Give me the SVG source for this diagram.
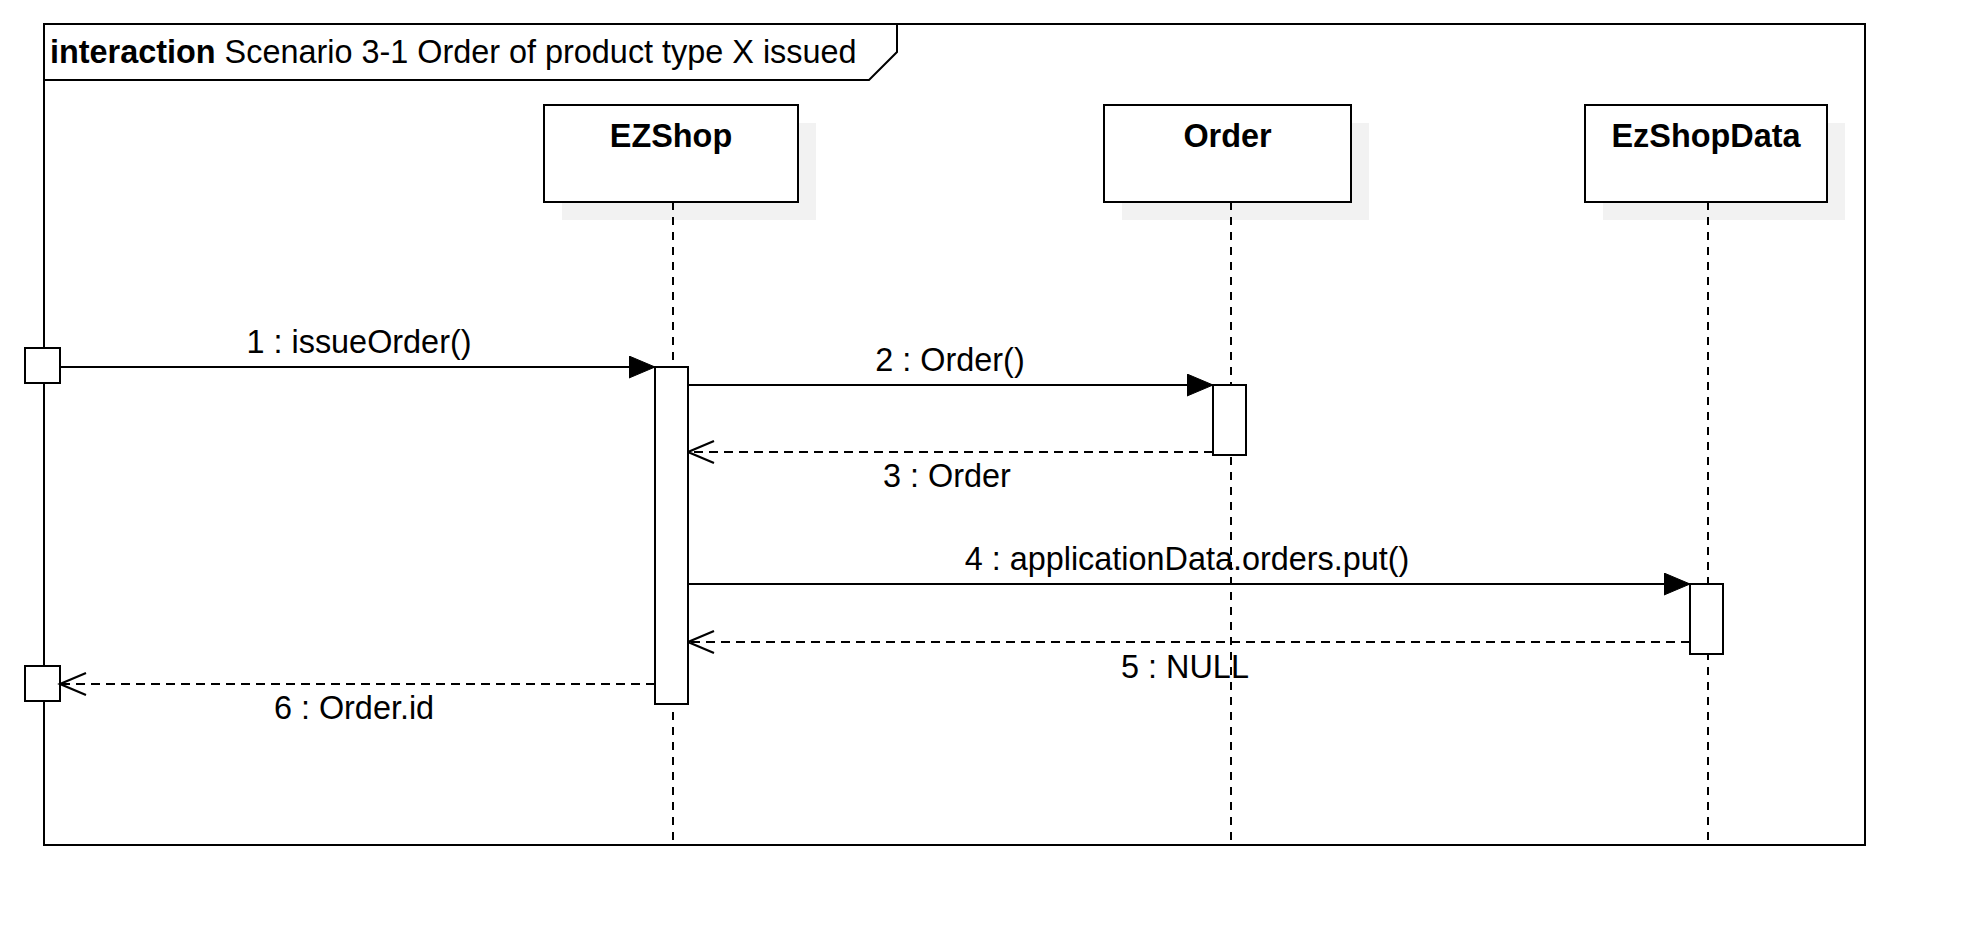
<svg xmlns="http://www.w3.org/2000/svg" width="1965" height="945" viewBox="0 0 1965 945">
  <style>
    .ln { stroke: #000; stroke-width: 2; fill: none; }
    .box { stroke: #000; stroke-width: 2; fill: #fff; }
    .shadow { fill: #f2f2f2; stroke: none; }
    .life { stroke: #000; stroke-width: 2; stroke-dasharray: 8 7; fill: none; }
    .ret { stroke: #000; stroke-width: 2.2; stroke-dasharray: 9 6; fill: none; }
    .t { font-family: "Liberation Sans", Arial, sans-serif; font-size: 32.4px; fill: #000; }
    .b { font-weight: bold; }
  </style>
  <defs>
    <marker id="filled" markerUnits="userSpaceOnUse" markerWidth="28" markerHeight="24" refX="26" refY="11" orient="auto" viewBox="0 0 28 24">
      <path d="M0,0 L26,11 L0,22 Z" fill="#000" stroke="#000" stroke-width="1"/>
    </marker>
    <marker id="open" markerUnits="userSpaceOnUse" markerWidth="30" markerHeight="26" refX="27" refY="12" orient="auto" viewBox="0 0 30 26">
      <path d="M1,1 L27,12 L1,23" fill="none" stroke="#000" stroke-width="2.2"/>
    </marker>
  </defs>
  <rect width="1965" height="945" fill="#fff"/>

  <g id="frame">
    <rect x="44" y="24" width="1821" height="821" class="ln"/>
    <path d="M44,80 L869,80 L897,52 L897,24" class="ln"/>
    <text x="50" y="63" class="t"><tspan class="b">interaction</tspan> Scenario 3-1 Order of product type X issued</text>
  </g>

  <g id="ezshop">
    <rect x="562" y="123" width="254" height="97" class="shadow"/>
    <line x1="673" y1="202" x2="673" y2="845" class="life"/>
    <rect x="544" y="105" width="254" height="97" class="box"/>
    <text x="671" y="147" text-anchor="middle" class="t b">EZShop</text>
  </g>

  <g id="order">
    <rect x="1122" y="123" width="247" height="97" class="shadow"/>
    <line x1="1231" y1="202" x2="1231" y2="845" class="life"/>
    <rect x="1104" y="105" width="247" height="97" class="box"/>
    <text x="1227.5" y="147" text-anchor="middle" class="t b">Order</text>
  </g>

  <g id="ezshopdata">
    <rect x="1603" y="123" width="242" height="97" class="shadow"/>
    <line x1="1708" y1="202" x2="1708" y2="845" class="life"/>
    <rect x="1585" y="105" width="242" height="97" class="box"/>
    <text x="1706" y="147" text-anchor="middle" class="t b">EzShopData</text>
  </g>

  <g id="found">
    <rect x="25" y="348" width="35" height="35" class="box"/>
  </g>
  <g id="lost">
    <rect x="25" y="666" width="35" height="35" class="box"/>
  </g>

  <g id="connectors">
    <line x1="60" y1="367" x2="655" y2="367" class="ln" marker-end="url(#filled)"/>
    <text x="359" y="353" text-anchor="middle" class="t">1 : issueOrder()</text>

    <line x1="688" y1="385" x2="1213" y2="385" class="ln" marker-end="url(#filled)"/>
    <text x="950" y="371" text-anchor="middle" class="t">2 : Order()</text>

    <line x1="1213" y1="452" x2="688" y2="452" class="ret" marker-end="url(#open)"/>
    <text x="947" y="487" text-anchor="middle" class="t">3 : Order</text>

    <line x1="688" y1="584" x2="1690" y2="584" class="ln" marker-end="url(#filled)"/>
    <text x="1187" y="570" text-anchor="middle" class="t">4 : applicationData.orders.put()</text>

    <line x1="1690" y1="642" x2="688" y2="642" class="ret" marker-end="url(#open)"/>
    <text x="1185" y="678" text-anchor="middle" class="t">5 : NULL</text>

    <line x1="655" y1="684" x2="60" y2="684" class="ret" marker-end="url(#open)"/>
    <text x="354" y="719" text-anchor="middle" class="t">6 : Order.id</text>
  </g>

  <g id="activations">
    <rect x="655" y="367" width="33" height="337" class="box"/>
    <rect x="1213" y="385" width="33" height="70" class="box"/>
    <rect x="1690" y="584" width="33" height="70" class="box"/>
  </g>
</svg>
